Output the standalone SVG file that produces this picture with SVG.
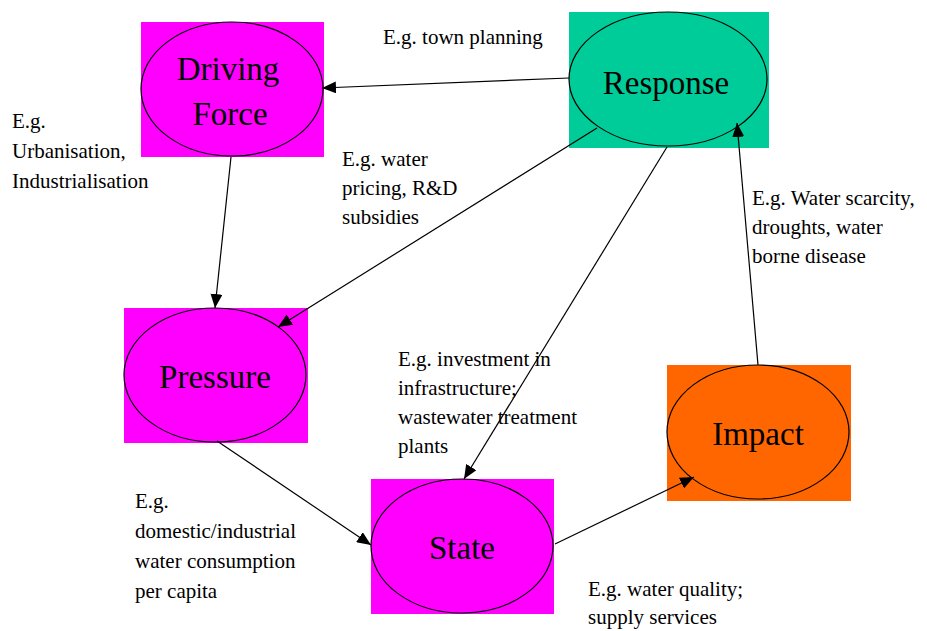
<svg xmlns="http://www.w3.org/2000/svg" width="927" height="631" viewBox="0 0 927 631">
<style>
.bg{stroke:none}
.el{stroke:#000;stroke-width:1.2}
.nt{font-family:'Liberation Serif','DejaVu Serif',serif;font-size:33px;fill:#000;text-anchor:middle}
.lb{font-family:'Liberation Serif','DejaVu Serif',serif;font-size:21px;fill:#000}
.cn{stroke:#000;stroke-width:1.2;fill:none;marker-end:url(#ah)}
</style>
<defs>
<marker id="ah" markerUnits="userSpaceOnUse" markerWidth="14" markerHeight="12" viewBox="0 0 14 12" refX="14" refY="6" orient="auto">
<path d="M0,0 L14,6 L0,12 Z" fill="#000"/>
</marker>
</defs>
<rect width="927" height="631" fill="#fff"/>
<g id="driving-force">
<rect class="bg" x="141" y="22" width="183" height="135" fill="#FF00FF"/>
<ellipse class="el" cx="232" cy="89" rx="91" ry="67" fill="#FF00FF"/>
<text class="nt" x="228" y="80" font-family="Liberation Serif, serif">Driving</text>
<text class="nt" x="230" y="125" font-family="Liberation Serif, serif">Force</text>
</g>
<g id="response">
<rect class="bg" x="569" y="12" width="200" height="136" fill="#00CC99"/>
<ellipse class="el" cx="668" cy="79" rx="99" ry="67" fill="#00CC99"/>
<text class="nt" x="666" y="94" font-family="Liberation Serif, serif">Response</text>
</g>
<g id="pressure">
<rect class="bg" x="124" y="308" width="184" height="135" fill="#FF00FF"/>
<ellipse class="el" cx="215" cy="375" rx="91" ry="67" fill="#FF00FF"/>
<text class="nt" x="215" y="388" font-family="Liberation Serif, serif">Pressure</text>
</g>
<g id="state">
<rect class="bg" x="371" y="479" width="183" height="135" fill="#FF00FF"/>
<ellipse class="el" cx="462" cy="546" rx="91" ry="67" fill="#FF00FF"/>
<text class="nt" x="462" y="559" font-family="Liberation Serif, serif">State</text>
</g>
<g id="impact">
<rect class="bg" x="667" y="365" width="184" height="136" fill="#FF6600"/>
<ellipse class="el" cx="758" cy="432" rx="91" ry="67" fill="#FF6600"/>
<text class="nt" x="758" y="445" font-family="Liberation Serif, serif">Impact</text>
</g>
<g id="connectors">
<line class="cn" x1="569" y1="78" x2="322" y2="88"/>
<line class="cn" x1="231" y1="157" x2="215" y2="308"/>
<line class="cn" x1="597" y1="128" x2="278" y2="327"/>
<line class="cn" x1="667" y1="147" x2="464" y2="479"/>
<line class="cn" x1="217" y1="441" x2="371" y2="545"/>
<line class="cn" x1="555" y1="544" x2="694" y2="477"/>
<line class="cn" x1="758" y1="365" x2="737" y2="123"/>
</g>
<g id="labels" font-family="Liberation Serif, serif">
<text class="lb" x="383" y="44">E.g. town planning</text>
<text class="lb" x="12" y="128">E.g.</text>
<text class="lb" x="12" y="158">Urbanisation,</text>
<text class="lb" x="12" y="188">Industrialisation</text>
<text class="lb" x="342" y="166">E.g. water</text>
<text class="lb" x="342" y="195">pricing, R&amp;D</text>
<text class="lb" x="342" y="224">subsidies</text>
<text class="lb" x="752" y="205">E.g. Water scarcity,</text>
<text class="lb" x="752" y="234">droughts, water</text>
<text class="lb" x="752" y="263">borne disease</text>
<text class="lb" x="398" y="366">E.g. investment in</text>
<text class="lb" x="398" y="395">infrastructure;</text>
<text class="lb" x="398" y="424">wastewater treatment</text>
<text class="lb" x="398" y="453">plants</text>
<text class="lb" x="135" y="508">E.g.</text>
<text class="lb" x="135" y="538">domestic/industrial</text>
<text class="lb" x="135" y="568">water consumption</text>
<text class="lb" x="135" y="598">per capita</text>
<text class="lb" x="588" y="596">E.g. water quality;</text>
<text class="lb" x="588" y="624">supply services</text>
</g>
</svg>
